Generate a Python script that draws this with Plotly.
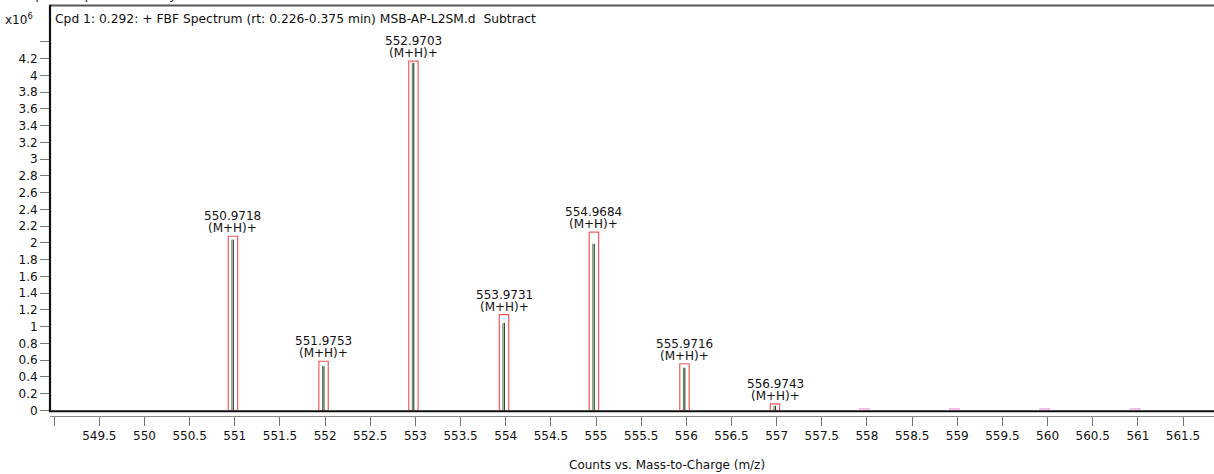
import plotly.graph_objects as go

# ---------------- data (intensities in units of 10^6 counts) ----------------
peak_mz = [550.9718, 551.9753, 552.9703, 553.9731, 554.9684, 555.9716, 556.9743]
measured = [2.04, 0.53, 4.15, 1.045, 1.99, 0.51, 0.056]
predicted = [2.08, 0.588, 4.17, 1.145, 2.13, 0.558, 0.08]
peak_labels = ["550.9718", "551.9753", "552.9703", "553.9731", "554.9684", "555.9716", "556.9743"]
ion_label = "(M+H)+"
minor_mz = [557.97, 558.97, 559.97, 560.97]
minor_pred = [0.02, 0.02, 0.02, 0.02]
x_ticks = [549.5 + 0.5 * i for i in range(25)]
x_tick_text = ["%g" % v for v in x_ticks]
x_unlabeled_ticks = [549.0]
y_ticks = [round(0.2 * i, 1) for i in range(22)]
y_tick_text = ["%g" % v for v in y_ticks]
y_unlabeled_ticks = [4.4]
title_text = "Cpd 1: 0.292: + FBF Spectrum (rt: 0.226-0.375 min) MSB-AP-L2SM.d  Subtract"
header_text = "Compound Spectra (overlay)"
x_title = "Counts vs. Mass-to-Charge (m/z)"

W, H = 1214, 474
FONT = "DejaVu Sans"
FS = 12
HALF = 0.052
BOX_OFF = 0.008
GREEN_OFF = -0.004
BLACK_OFF = 0.012


def px_x(p):
    return p / W


def px_y(p):
    return (H - p) / H


fig = go.Figure()

# predicted isotope boxes (red)
bx, by = [], []
for m, h in zip(peak_mz, predicted):
    c = m + BOX_OFF
    bx += [c - HALF, c - HALF, c + HALF, c + HALF, c - HALF, None]
    by += [0, h, h, 0, 0, None]
fig.add_trace(go.Scatter(x=bx, y=by, mode="lines", line=dict(color="#f25a5a", width=1.2),
                         hoverinfo="skip", showlegend=False))

# minor predicted boxes (pink)
mx, my = [], []
for m, h in zip(minor_mz, minor_pred):
    mx += [m - HALF, m - HALF, m + HALF, m + HALF, m - HALF, None]
    my += [0, h, h, 0, 0, None]
fig.add_trace(go.Scatter(x=mx, y=my, mode="lines", line=dict(color="#f0b8ec", width=1.5),
                         hoverinfo="skip", showlegend=False))

# measured sticks (green + black overlay)
gx, gy, kx, ky = [], [], [], []
for m, h in zip(peak_mz, measured):
    gx += [m + GREEN_OFF, m + GREEN_OFF, None]
    gy += [0, h, None]
    kx += [m + BLACK_OFF, m + BLACK_OFF, None]
    ky += [0, h, None]
fig.add_trace(go.Scatter(x=gx, y=gy, mode="lines", line=dict(color="#4a8a4a", width=1),
                         hoverinfo="skip", showlegend=False))
fig.add_trace(go.Scatter(x=kx, y=ky, mode="lines", line=dict(color="#222222", width=1),
                         hoverinfo="skip", showlegend=False))

annotations = []
for m, h, lab in zip(peak_mz, predicted, peak_labels):
    annotations.append(dict(x=m + BOX_OFF, y=h, xref="x", yref="y", text=ion_label, showarrow=False,
                            xanchor="center", yanchor="bottom", yshift=-1,
                            font=dict(family=FONT, size=FS, color="#111")))
    annotations.append(dict(x=m + BOX_OFF, y=h, xref="x", yref="y", text=lab, showarrow=False,
                            xanchor="center", yanchor="bottom", yshift=11,
                            font=dict(family=FONT, size=FS, color="#111")))

annotations += [
    dict(x=px_x(53), y=px_y(19), xref="paper", yref="paper", text=title_text, showarrow=False,
         xanchor="left", yanchor="middle", font=dict(family=FONT, size=12.3, color="#111")),
    dict(x=px_x(3), y=px_y(19), xref="paper", yref="paper", text="x10<sup>6</sup>", showarrow=False,
         xanchor="left", yanchor="middle", font=dict(family=FONT, size=FS, color="#111")),
    dict(x=px_x(667), y=px_y(465), xref="paper", yref="paper", text=x_title, showarrow=False,
         xanchor="center", yanchor="middle", font=dict(family=FONT, size=FS, color="#111")),
    dict(x=px_x(6), y=px_y(-5), xref="paper", yref="paper", text=header_text, showarrow=False,
         xanchor="left", yanchor="middle", font=dict(family=FONT, size=FS, color="#111")),
]

shapes = [
    # top border
    dict(type="line", xref="paper", yref="paper", x0=px_x(49), x1=1, y0=px_y(5.5), y1=px_y(5.5),
         line=dict(color="#555555", width=2)),
    # left border
    dict(type="line", xref="paper", yref="paper", x0=px_x(50), x1=px_x(50), y0=px_y(5), y1=px_y(412),
         line=dict(color="#111111", width=2.2)),
    # baseline
    dict(type="line", xref="paper", yref="paper", x0=px_x(49), x1=1, y0=px_y(411.2), y1=px_y(411.2),
         line=dict(color="#111111", width=2)),
]

fig.update_layout(
    width=W, height=H,
    margin=dict(l=0, r=0, t=0, b=0),
    paper_bgcolor="white", plot_bgcolor="white",
    showlegend=False,
    annotations=annotations,
    shapes=shapes,
    xaxis=dict(domain=[px_x(50), 1], range=[548.954, 561.843], anchor="free", position=px_y(416),
               showgrid=False, zeroline=False, showline=True, linecolor="#888888", linewidth=1,
               ticks="outside", ticklen=9, tickcolor="#777777", tickwidth=1,
               tickvals=x_ticks, ticktext=x_tick_text, automargin=False,
               minor=dict(tickvals=x_unlabeled_ticks, ticks="outside", ticklen=9,
                          tickcolor="#777777", tickwidth=1, showgrid=False),
               tickfont=dict(family=FONT, size=FS, color="#111")),
    yaxis=dict(domain=[px_y(410.5), px_y(6)], range=[0, 4.829],
               showgrid=False, zeroline=False, showline=False, automargin=False,
               ticks="outside", ticklen=9, tickcolor="#777777", tickwidth=1,
               tickvals=y_ticks, ticktext=y_tick_text,
               minor=dict(tickvals=y_unlabeled_ticks, ticks="outside", ticklen=9,
                          tickcolor="#777777", tickwidth=1, showgrid=False),
               tickfont=dict(family=FONT, size=FS, color="#111")),
)

fig.write_html("out.html")
